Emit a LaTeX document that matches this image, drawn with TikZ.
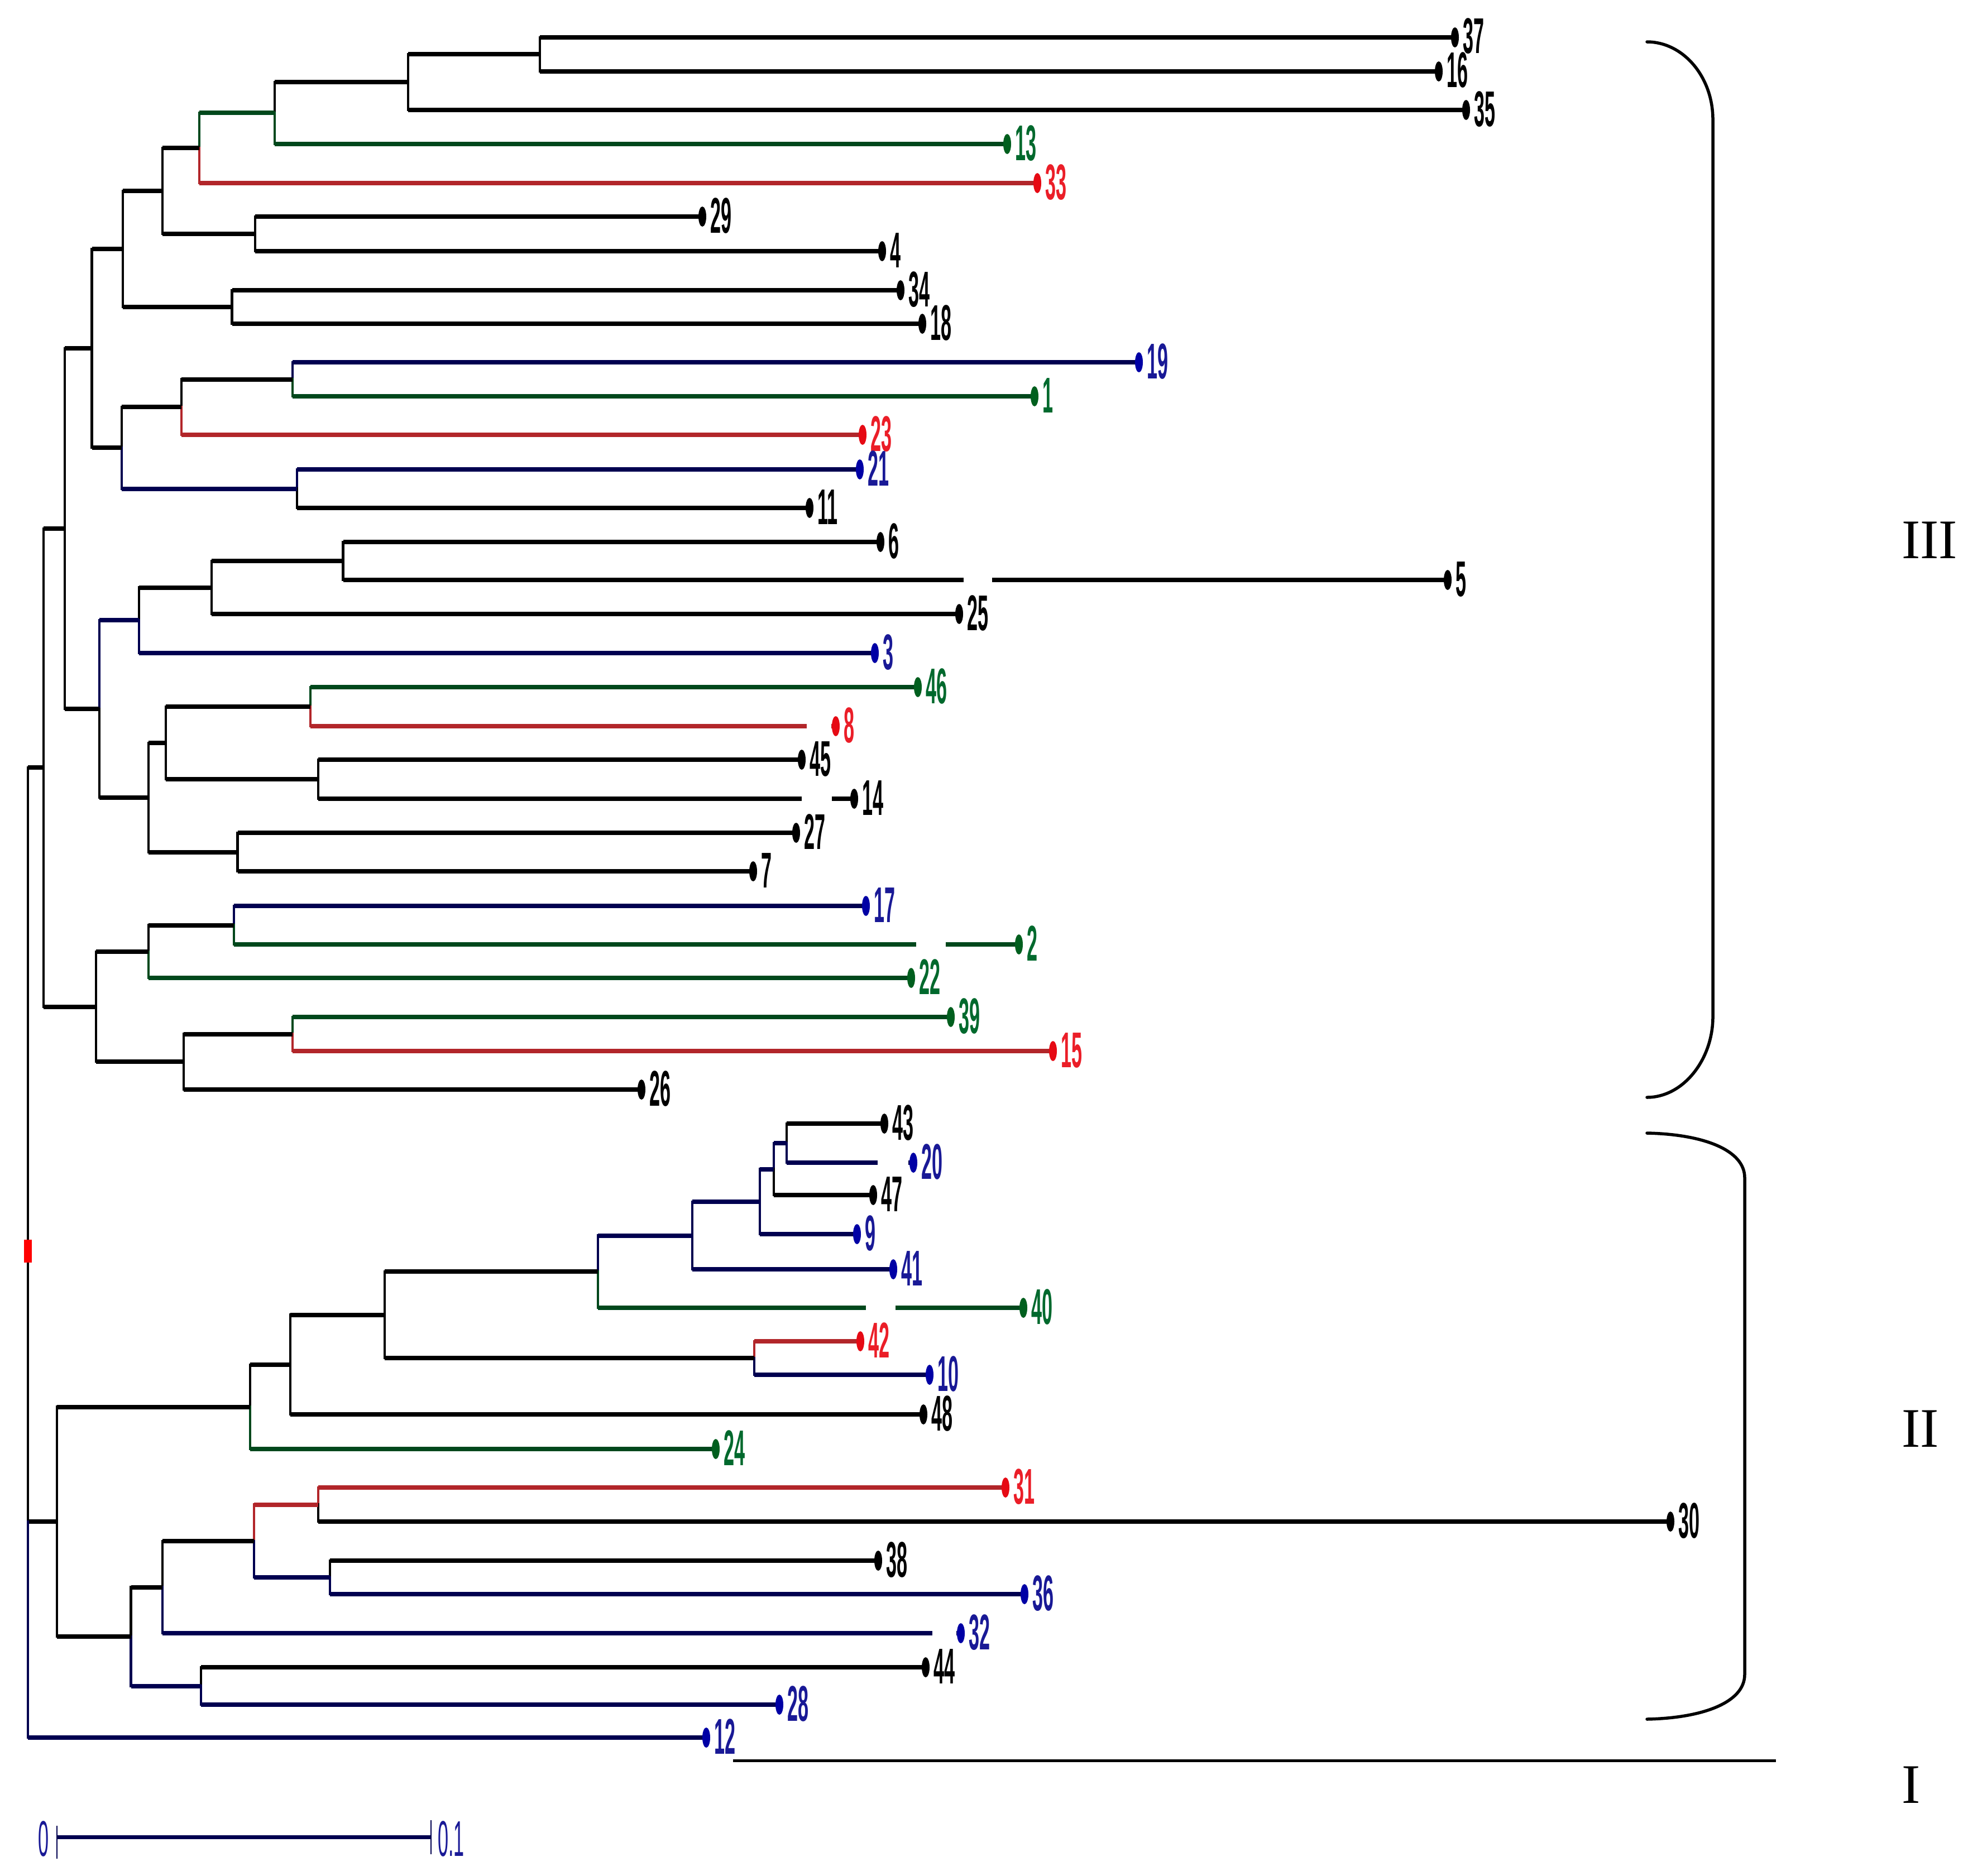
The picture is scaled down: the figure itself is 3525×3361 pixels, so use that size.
\documentclass[tikz,border=0pt]{standalone}
\usepackage{fontspec}
\usepackage{graphicx}
\setmainfont{Liberation Sans}
\newfontfamily\romfont{Liberation Serif}
\usetikzlibrary{calc}
\definecolor{lgreen}{RGB}{0,72,28}
\definecolor{lred}{RGB}{178,38,42}
\definecolor{lblue}{RGB}{0,0,80}
\definecolor{mgreen}{RGB}{0,95,30}
\definecolor{mred}{RGB}{230,10,20}
\definecolor{mblue}{RGB}{0,0,165}
\definecolor{tgreen}{RGB}{0,105,45}
\definecolor{tred}{RGB}{235,30,40}
\definecolor{tblue}{RGB}{25,25,150}
\newcommand{\tbr}[3]{\draw[vl,#3] (#1) -- (#1 |- #2);\draw[hl,#3] (#1 |- #2) -- (#2);}
\newcommand{\tmk}[2]{\fill[#2] (m#1) ellipse [x radius=7pt, y radius=18pt];}
\newcommand{\tlb}[2]{\node[lab,text=#2] (t#1) at ($(m#1)+(14,29)$) {\scalebox{0.38}[1]{#1}};}
\begin{document}
\begin{tikzpicture}[x=1pt,y=-1pt,
  hl/.style={line width=8pt},
  vl/.style={line width=4.5pt,line cap=rect},
  lab/.style={inner sep=0pt,anchor=base west,font=\bfseries\fontsize{90}{96}\selectfont},
  rom/.style={inner sep=0pt,anchor=base west,font=\romfont\fontsize{100}{100}\selectfont},
  brk/.style={line width=5.5pt,line cap=round}]
\fill[white] (0,0) rectangle (3525,3361);
\useasboundingbox (0,0) rectangle (3525,3361);
% leaves (marker positions)
\coordinate (m37) at (2606,67);
\coordinate (m16) at (2577,128);
\coordinate (m35) at (2626,197);
\coordinate (m13) at (1804,258);
\coordinate (m33) at (1858,328);
\coordinate (m29) at (1258,388);
\coordinate (m4) at (1580,450);
\coordinate (m34) at (1613,520);
\coordinate (m18) at (1652,580);
\coordinate (m19) at (2040,649);
\coordinate (m1) at (1853,710);
\coordinate (m23) at (1545,779);
\coordinate (m21) at (1540,841);
\coordinate (m11) at (1450,910);
\coordinate (m6) at (1577,971);
\coordinate (m5) at (2593,1039);
\coordinate (m25) at (1718,1100);
\coordinate (m3) at (1567,1170);
\coordinate (m46) at (1644,1231);
\coordinate (m8) at (1497,1301);
\coordinate (m45) at (1436,1361);
\coordinate (m14) at (1530,1431);
\coordinate (m27) at (1426,1492);
\coordinate (m7) at (1349,1561);
\coordinate (m17) at (1551,1623);
\coordinate (m2) at (1825,1692);
\coordinate (m22) at (1632,1752);
\coordinate (m39) at (1703,1822);
\coordinate (m15) at (1886,1883);
\coordinate (m26) at (1149,1952);
\coordinate (m43) at (1584,2013);
\coordinate (m20) at (1636,2083);
\coordinate (m47) at (1564,2141);
\coordinate (m9) at (1535,2211);
\coordinate (m41) at (1600,2274);
\coordinate (m40) at (1833,2343);
\coordinate (m42) at (1541,2403);
\coordinate (m10) at (1665,2463);
\coordinate (m48) at (1654,2534);
\coordinate (m24) at (1282,2596);
\coordinate (m31) at (1801,2665);
\coordinate (m30) at (2992,2726);
\coordinate (m38) at (1573,2796);
\coordinate (m36) at (1835,2856);
\coordinate (m32) at (1721,2926);
\coordinate (m44) at (1658,2987);
\coordinate (m28) at (1396,3054);
\coordinate (m12) at (1265,3113);
% internal nodes, cluster III
\coordinate (n3716) at (967,97.5);
\coordinate (nA) at (731,147);
\coordinate (nB) at (492,202.5);
\coordinate (nC) at (357,265);
\coordinate (nD) at (457,419);
\coordinate (nE) at (291,342);
\coordinate (nF) at (415.5,550);
\coordinate (nG) at (220,446);
\coordinate (nH) at (524,679.5);
\coordinate (nI) at (325,729);
\coordinate (nJ) at (532,875.5);
\coordinate (nK) at (218,802);
\coordinate (nL) at (164.5,624);
\coordinate (nN) at (614.5,1005);
\coordinate (nO) at (379,1052.5);
\coordinate (nP) at (249,1111);
\coordinate (nQ) at (556,1266);
\coordinate (nR) at (570,1396);
\coordinate (nS) at (297,1331);
\coordinate (nT) at (425.5,1526.5);
\coordinate (nU) at (266,1429);
\coordinate (nV) at (178,1270);
\coordinate (nXa) at (116,947);
\coordinate (nW) at (419,1657.5);
\coordinate (nX) at (266,1705);
\coordinate (nY) at (524,1852.5);
\coordinate (nZ) at (329,1902);
\coordinate (nAA) at (172,1803.5);
\coordinate (nM) at (78,1375);
% cluster II
\coordinate (n4320) at (1409,2048);
\coordinate (n47) at (1386,2094.5);
\coordinate (n9) at (1361,2153);
\coordinate (n41) at (1240,2213.5);
\coordinate (nFF) at (1071,2278);
\coordinate (n4210) at (1351,2433);
\coordinate (nEE) at (689,2355.5);
\coordinate (nDD) at (520,2445);
\coordinate (nCC) at (448,2520.5);
\coordinate (nGG) at (570,2695.5);
\coordinate (nHH) at (591,2826);
\coordinate (nII) at (455,2761);
\coordinate (nJJ) at (291,2843.5);
\coordinate (nLL) at (360,3020.5);
\coordinate (nKK) at (234.7,2932);
\coordinate (nBB) at (102,2726);
\coordinate (root) at (50,2241);
% branches III
\tbr{n3716}{m37}{black} \tbr{n3716}{m16}{black}
\tbr{nA}{n3716}{black} \tbr{nA}{m35}{black}
\tbr{nB}{nA}{black} \tbr{nB}{m13}{lgreen}
\tbr{nC}{nB}{lgreen} \tbr{nC}{m33}{lred}
\tbr{nD}{m29}{black} \tbr{nD}{m4}{black}
\tbr{nE}{nC}{black} \tbr{nE}{nD}{black}
\tbr{nF}{m34}{black} \tbr{nF}{m18}{black}
\tbr{nG}{nE}{black} \tbr{nG}{nF}{black}
\tbr{nH}{m19}{lblue} \tbr{nH}{m1}{lgreen}
\tbr{nI}{nH}{black} \tbr{nI}{m23}{lred}
\tbr{nJ}{m21}{lblue} \tbr{nJ}{m11}{black}
\tbr{nK}{nI}{black} \tbr{nK}{nJ}{lblue}
\tbr{nL}{nG}{black} \tbr{nL}{nK}{black}
\tbr{nN}{m6}{black} \tbr{nN}{m5}{black}
\tbr{nO}{nN}{black} \tbr{nO}{m25}{black}
\tbr{nP}{nO}{black} \tbr{nP}{m3}{lblue}
\tbr{nQ}{m46}{lgreen} \tbr{nQ}{m8}{lred}
\tbr{nR}{m45}{black} \tbr{nR}{m14}{black}
\tbr{nS}{nQ}{black} \tbr{nS}{nR}{black}
\tbr{nT}{m27}{black} \tbr{nT}{m7}{black}
\tbr{nU}{nS}{black} \tbr{nU}{nT}{black}
\tbr{nV}{nP}{lblue} \tbr{nV}{nU}{black}
\tbr{nXa}{nL}{black} \tbr{nXa}{nV}{black}
\tbr{nW}{m17}{lblue} \tbr{nW}{m2}{lgreen}
\tbr{nX}{nW}{black} \tbr{nX}{m22}{lgreen}
\tbr{nY}{m39}{lgreen} \tbr{nY}{m15}{lred}
\tbr{nZ}{nY}{black} \tbr{nZ}{m26}{black}
\tbr{nAA}{nX}{black} \tbr{nAA}{nZ}{black}
\tbr{nM}{nXa}{black} \tbr{nM}{nAA}{black}
% branches II
\tbr{n4320}{m43}{black} \tbr{n4320}{m20}{lblue}
\tbr{n47}{n4320}{lblue} \tbr{n47}{m47}{black}
\tbr{n9}{n47}{lblue} \tbr{n9}{m9}{lblue}
\tbr{n41}{n9}{lblue} \tbr{n41}{m41}{lblue}
\tbr{nFF}{n41}{lblue} \tbr{nFF}{m40}{lgreen}
\tbr{n4210}{m42}{lred} \tbr{n4210}{m10}{lblue}
\tbr{nEE}{nFF}{black} \tbr{nEE}{n4210}{black}
\tbr{nDD}{nEE}{black} \tbr{nDD}{m48}{black}
\tbr{nCC}{nDD}{black} \tbr{nCC}{m24}{lgreen}
\tbr{nGG}{m31}{lred} \tbr{nGG}{m30}{black}
\tbr{nHH}{m38}{black} \tbr{nHH}{m36}{lblue}
\tbr{nII}{nGG}{lred} \tbr{nII}{nHH}{lblue}
\tbr{nJJ}{nII}{black} \tbr{nJJ}{m32}{lblue}
\tbr{nLL}{m44}{black} \tbr{nLL}{m28}{lblue}
\tbr{nKK}{nJJ}{black} \tbr{nKK}{nLL}{lblue}
\tbr{nBB}{nCC}{black} \tbr{nBB}{nKK}{black}
% root
\tbr{root}{nM}{black} \tbr{root}{nBB}{black}
\draw[vl,lblue] (root |- nBB) -- (root |- m12);
\draw[hl,lblue] (root |- m12) -- (m12);
\fill[red] ($(root)+(-7,-20)$) rectangle ($(root)+(7,21)$);
% white gaps in the reference lines
\fill[white] (1726,1033) rectangle (1777,1045);
\fill[white] (1436,1425) rectangle (1490,1437);
\fill[white] (1641,1686) rectangle (1694,1698);
\fill[white] (1551,2337) rectangle (1604,2349);
\fill[white] (1445,1295) rectangle (1489,1307);
\fill[white] (1572,2077) rectangle (1627,2089);
\fill[white] (1670,2920) rectangle (1713,2932);
% markers
\tmk{37}{black} \tmk{16}{black} \tmk{35}{black} \tmk{13}{mgreen} \tmk{33}{mred}
\tmk{29}{black} \tmk{4}{black} \tmk{34}{black} \tmk{18}{black} \tmk{19}{mblue}
\tmk{1}{mgreen} \tmk{23}{mred} \tmk{21}{mblue} \tmk{11}{black} \tmk{6}{black}
\tmk{5}{black} \tmk{25}{black} \tmk{3}{mblue} \tmk{46}{mgreen} \tmk{8}{mred}
\tmk{45}{black} \tmk{14}{black} \tmk{27}{black} \tmk{7}{black} \tmk{17}{mblue}
\tmk{2}{mgreen} \tmk{22}{mgreen} \tmk{39}{mgreen} \tmk{15}{mred} \tmk{26}{black}
\tmk{43}{black} \tmk{20}{mblue} \tmk{47}{black} \tmk{9}{mblue} \tmk{41}{mblue}
\tmk{40}{mgreen} \tmk{42}{mred} \tmk{10}{mblue} \tmk{48}{black} \tmk{24}{mgreen}
\tmk{31}{mred} \tmk{30}{black} \tmk{38}{black} \tmk{36}{mblue} \tmk{32}{mblue}
\tmk{44}{black} \tmk{28}{mblue} \tmk{12}{mblue}
% labels
\tlb{37}{black} \tlb{16}{black} \tlb{35}{black} \tlb{13}{tgreen} \tlb{33}{tred}
\tlb{29}{black} \tlb{4}{black} \tlb{34}{black} \tlb{18}{black} \tlb{19}{tblue}
\tlb{1}{tgreen} \tlb{23}{tred} \tlb{21}{tblue} \tlb{11}{black} \tlb{6}{black}
\tlb{5}{black} \tlb{25}{black} \tlb{3}{tblue} \tlb{46}{tgreen} \tlb{8}{tred}
\tlb{45}{black} \tlb{14}{black} \tlb{27}{black} \tlb{7}{black} \tlb{17}{tblue}
\tlb{2}{tgreen} \tlb{22}{tgreen} \tlb{39}{tgreen} \tlb{15}{tred} \tlb{26}{black}
\tlb{43}{black} \tlb{20}{tblue} \tlb{47}{black} \tlb{9}{tblue} \tlb{41}{tblue}
\tlb{40}{tgreen} \tlb{42}{tred} \tlb{10}{tblue} \tlb{48}{black} \tlb{24}{tgreen}
\tlb{31}{tred} \tlb{30}{black} \tlb{38}{black} \tlb{36}{tblue} \tlb{32}{tblue}
\tlb{44}{black} \tlb{28}{tblue} \tlb{12}{tblue}
% brackets and cluster names
\draw[brk] (2950,75) .. controls (3015,75) and (3068,138) .. (3068,214) -- (3068,1822) .. controls (3068,1898) and (3015,1966) .. (2950,1966);
\draw[brk] (2950,2030) .. controls (3050,2032) and (3125,2060) .. (3125,2110) -- (3125,3000) .. controls (3125,3050) and (3050,3078) .. (2950,3080);
\coordinate (Ia) at (1313,3154);
\coordinate (Ib) at (3181,3154);
\draw[line width=5pt] (Ia) -- (Ib);
\node[rom] (cIII) at (3406,1000) {III};
\node[rom] (cII) at (3406,2592) {II};
\node[rom] (cI) at (3406,3230) {I};
% scale bar
\coordinate (s0) at (102,3291);
\coordinate (s1) at (772,3291);
\draw[lblue,line width=7pt] (s0) -- (s1);
\draw[lblue,line width=2.5pt] ($(s0)+(0,-20)$) -- ($(s0)+(0,39)$);
\draw[lblue,line width=2.5pt] ($(s1)+(0,-30)$) -- ($(s1)+(0,31)$);
\node[lab,text=tblue,font=\fontsize{90}{96}\selectfont] (sc0) at (68,3325) {\scalebox{0.38}[1]{0}};
\node[lab,text=tblue,font=\fontsize{90}{96}\selectfont] (sc1) at (784,3325) {\scalebox{0.38}[1]{0.1}};
\end{tikzpicture}
\end{document}
